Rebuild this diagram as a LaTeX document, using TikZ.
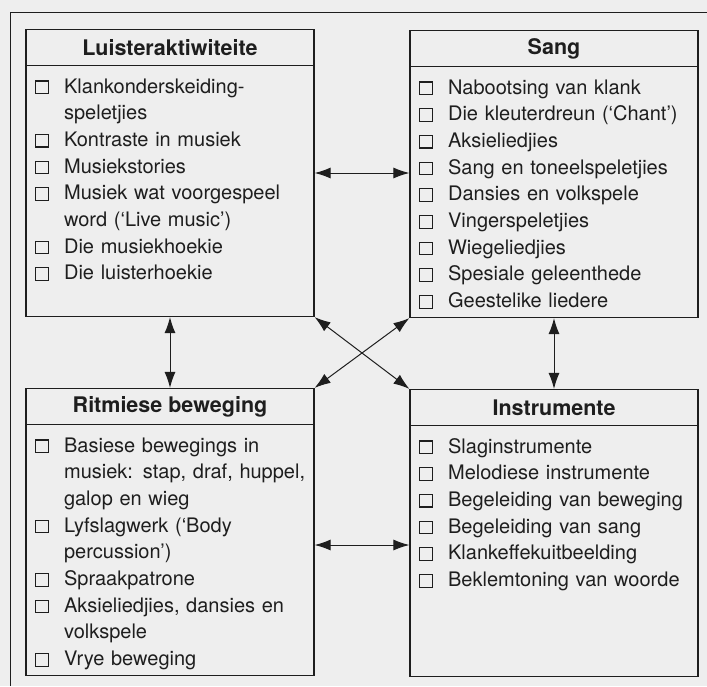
\documentclass[tikz,border=0pt]{standalone}
\usepackage{fontspec}
\setmainfont{TeX Gyre Heros}
\usetikzlibrary{positioning,arrows.meta}

\definecolor{paper}{HTML}{EEEEEE}
\definecolor{ink}{HTML}{1E1E1E}

\newcommand{\hok}{{\setlength{\fboxsep}{0pt}\setlength{\fboxrule}{1.1pt}\fbox{\rule{0pt}{11.5pt}\hspace{11.5pt}}}}
\newcommand{\punt}[1]{\par\hangindent=29pt\hangafter=1\noindent\strut\makebox[29pt][l]{\hok}#1}

\tikzset{
  panel/.style={draw=ink, line width=1.2pt, minimum width=288pt, minimum height=287pt, inner sep=0pt},
  kop/.style={draw=ink, line width=1.2pt, minimum width=288pt, minimum height=36pt, inner sep=0pt,
    anchor=north, text=ink, font=\fontsize{21.5}{26}\selectfont\bfseries},
  lys/.style={anchor=north west, text width=300pt, align=left, inner xsep=9.5pt, inner ysep=0pt,
    text=ink, font=\fontsize{20}{26.7}\selectfont},
  link/.style={{Latex[length=16pt,width=11pt]}-{Latex[length=16pt,width=11pt]}, line width=1pt, draw=ink}
}

\begin{document}
\begin{tikzpicture}[x=1pt,y=-1pt]

\fill[paper] (0,0) rectangle (707,686);
\useasboundingbox (0,0) rectangle (707,686);
\draw[ink, line width=0.8pt] (10,686) -- (10,12) -- (707,12);

\node[panel] (lu) at (170,173) {};
\node[panel] (sa) at (554,174) {};
\node[panel] (rb) at (170,532) {};
\node[panel] (in) at (554,533) {};

\node[kop] (luh) at (lu.north) {Luisteraktiwiteite};
\node[kop] (sah) at (sa.north) {Sang};
\node[kop] (rbh) at (rb.north) {Ritmiese beweging};
\node[kop] (inh) at (in.north) {Instrumente};

\node[lys] (lul) at (luh.south west) {%
\punt{Klankonderskeiding-\newline speletjies}
\punt{Kontraste in musiek}
\punt{Musiekstories}
\punt{Musiek wat voorgespeel\newline word (‘Live music’)}
\punt{Die musiekhoekie}
\punt{Die luisterhoekie}};

\node[lys] (sal) at (sah.south west) {%
\punt{Nabootsing van klank}
\punt{Die kleuterdreun (‘Chant’)}
\punt{Aksieliedjies}
\punt{Sang en toneelspeletjies}
\punt{Dansies en volkspele}
\punt{Vingerspeletjies}
\punt{Wiegeliedjies}
\punt{Spesiale geleenthede}
\punt{Geestelike liedere}};

\node[lys] (rbl) at (rbh.south west) {%
\punt{Basiese bewegings in\newline musiek: stap, draf, huppel,\newline galop en wieg}
\punt{Lyfslagwerk (‘Body\newline percussion’)}
\punt{Spraakpatrone}
\punt{Aksieliedjies, dansies en\newline volkspele}
\punt{Vrye beweging}};

\node[lys] (inl) at (inh.south west) {%
\punt{Slaginstrumente}
\punt{Melodiese instrumente}
\punt{Begeleiding van beweging}
\punt{Begeleiding van sang}
\punt{Klankeffekuitbeelding}
\punt{Beklemtoning van woorde}};

\draw[link] (lu.east) -- (lu.east -| sa.west);
\draw[link] (lu.south) -- (rb.north);
\draw[link] (sa.south) -- (in.north);
\draw[link] (rb.east |- 0,545) -- (in.west |- 0,545);
\draw[link] (lu.south east) -- (in.north west);
\draw[link] (rb.north east) -- (sa.south west);

\end{tikzpicture}
\end{document}
